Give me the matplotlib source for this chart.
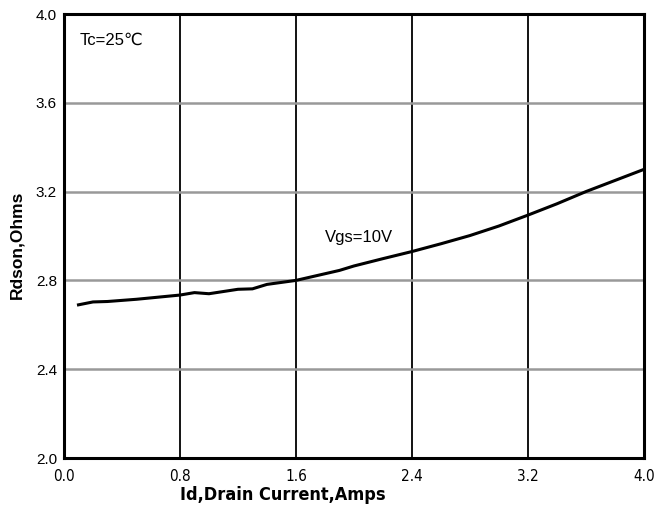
import matplotlib
matplotlib.use("Agg")
import matplotlib.pyplot as plt

# Rdson vs drain current, Vgs = 10V, Tc = 25C
drain_current = [0.1, 0.2, 0.3, 0.5, 0.8, 0.9, 1.0, 1.2, 1.3, 1.4, 1.6, 1.8, 1.9, 2.0,
                 2.2, 2.4, 2.6, 2.8, 3.0, 3.2, 3.4, 3.6, 3.8, 4.0]
rdson = [2.69, 2.703, 2.705, 2.715, 2.734, 2.745, 2.74, 2.76, 2.762, 2.782, 2.80, 2.83,
         2.845, 2.865, 2.898, 2.93, 2.965, 3.002, 3.045, 3.094, 3.145, 3.20, 3.25, 3.30]

x_ticks = [0.0, 0.8, 1.6, 2.4, 3.2, 4.0]
y_ticks = [2.0, 2.4, 2.8, 3.2, 3.6, 4.0]

narrow = dict(family="DejaVu Sans", stretch="condensed")

fig = plt.figure(figsize=(6.55, 5.11), dpi=100)
ax = fig.add_axes([0.0977, 0.1037, 0.8853, 0.8689])

ax.set_xlim(0, 4.0)
ax.set_ylim(2.0, 4.0)
ax.set_xticks(x_ticks)
ax.set_yticks(y_ticks)
ax.set_xticklabels([f"{v:.1f}" for v in x_ticks], fontsize=11, **narrow)
ax.set_yticklabels([f"{v:.1f}" for v in y_ticks], fontsize=11, family="Liberation Sans")
ax.tick_params(axis="x", length=0, pad=8)
ax.tick_params(axis="y", length=0, pad=5)

# vertical grid black, horizontal grid gray
for xv in x_ticks[1:-1]:
    ax.axvline(xv, color="black", linewidth=1.3, zorder=1)
for yv in y_ticks[1:-1]:
    ax.axhline(yv, color="#999999", linewidth=1.8, zorder=1)

for s in ax.spines.values():
    s.set_linewidth(2.2)
    s.set_zorder(3)

ax.plot(drain_current, rdson, color="black", linewidth=2.2, zorder=2, clip_on=False)

ax.text(0.11, 3.88, "Tc=25℃", fontsize=12, family=["Liberation Sans", "DejaVu Sans"],
        va="center", ha="left")
ax.text(1.8, 2.995, "Vgs=10V", fontsize=12, family="Liberation Sans", va="center", ha="left")

ax.set_xlabel("Id,Drain Current,Amps", fontweight="bold", fontsize=13, labelpad=0,
              **narrow)
ax.xaxis.set_label_coords(0.378, -0.063)
ax.set_ylabel("Rdson,Ohms", family="Liberation Sans", fontweight="bold", fontsize=12.5,
              labelpad=8)
ax.yaxis.set_label_coords(-0.068, 0.48)

fig.savefig("out.png", dpi=100)
